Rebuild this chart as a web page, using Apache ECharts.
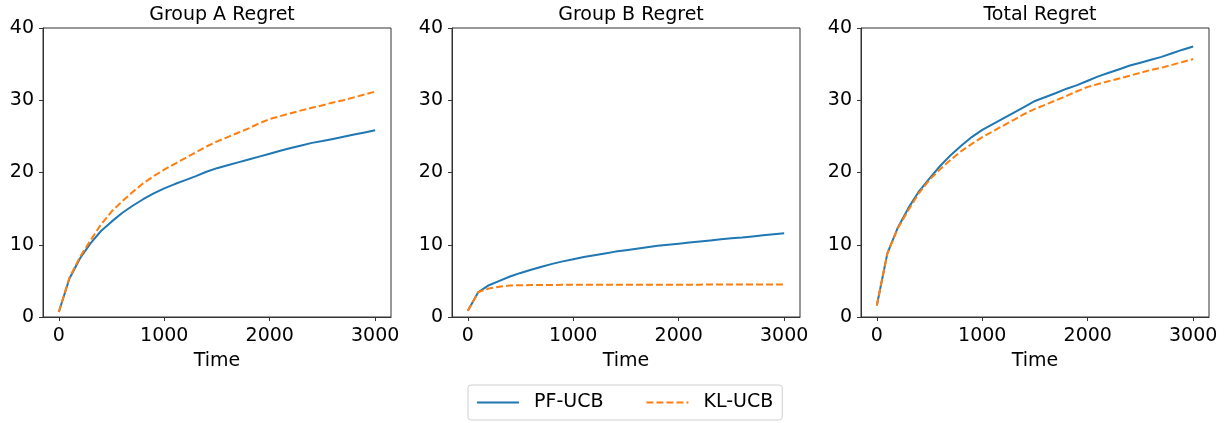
<!DOCTYPE html>
<html>
<head>
<meta charset="utf-8">
<script src="https://cdn.jsdelivr.net/npm/echarts@6/dist/echarts.min.js"></script>
<style>
html,body{margin:0;padding:0;background:#fff;}
#chart{width:1228px;height:423px;}
</style>
</head>
<body>
<div id="chart"></div>
<script>
var time = [0,100,200,300,400,500,600,700,800,900,1000,1100,1200,1300,1400,1500,1600,1700,1800,1900,2000,2100,2200,2300,2400,2500,2600,2700,2800,2900,3000];
var titles = ['Group A Regret', 'Group B Regret', 'Total Regret'];
var seriesNames = ['PF-UCB', 'KL-UCB'];
var xTicks = [0, 1000, 2000, 3000];
var yTicks = [0, 10, 20, 30, 40];

var groupA_PF = [0.7,5.3,8.1,10.2,11.9,13.2,14.4,15.4,16.3,17.1,17.8,18.4,18.95,19.5,20.1,20.6,21.0,21.4,21.8,22.2,22.6,23.0,23.4,23.75,24.1,24.35,24.65,24.95,25.25,25.55,25.85];
var groupA_KL = [0.7,5.4,8.3,10.6,12.8,14.6,16.0,17.3,18.5,19.5,20.4,21.2,22.0,22.8,23.6,24.3,24.9,25.5,26.1,26.8,27.4,27.8,28.2,28.6,28.95,29.3,29.7,30.0,30.4,30.8,31.2];
var groupB_PF = [0.85,3.45,4.4,5.0,5.6,6.1,6.55,6.95,7.35,7.7,8.0,8.3,8.55,8.8,9.05,9.25,9.45,9.65,9.85,10.0,10.15,10.3,10.45,10.6,10.75,10.9,11.0,11.15,11.3,11.45,11.6];
var groupB_KL = [0.85,3.45,3.95,4.2,4.35,4.4,4.42,4.43,4.44,4.45,4.45,4.46,4.46,4.46,4.47,4.47,4.47,4.47,4.48,4.48,4.48,4.48,4.48,4.49,4.49,4.49,4.49,4.49,4.5,4.5,4.5];
var total_PF = [1.6,8.8,12.4,15.1,17.4,19.2,20.9,22.4,23.7,24.9,25.9,26.7,27.5,28.3,29.1,29.9,30.45,31.0,31.6,32.1,32.7,33.3,33.8,34.3,34.8,35.2,35.6,36.0,36.5,37.0,37.45];
var total_KL = [1.6,8.8,12.3,14.8,17.15,19.0,20.45,21.75,22.95,23.95,24.9,25.7,26.5,27.3,28.1,28.8,29.4,30.0,30.6,31.25,31.85,32.25,32.65,33.0,33.4,33.8,34.2,34.5,34.9,35.3,35.7];

var panels = [[groupA_PF, groupA_KL],[groupB_PF, groupB_KL],[total_PF, total_KL]];
var gridLefts = [43, 452, 861];
var gridW = 348;
var FONT = 'DejaVu Sans';
var colors = ['#1f77b4', '#ff7f0e'];
var FRAME = '#333';

function pairs(xs, ys){ return xs.map(function(x,i){ return [x, ys[i]]; }); }

var grids = [], xAxes = [], yAxes = [], series = [], titleArr = [];
for (var p = 0; p < 3; p++) {
  grids.push({left: gridLefts[p], top: 28, width: gridW, height: 289, show: true, borderColor: FRAME, borderWidth: 1, backgroundColor: 'transparent'});
  titleArr.push({text: titles[p], left: gridLefts[p] + gridW/2, top: 1, textAlign: 'center',
    textStyle: {fontFamily: FONT, fontSize: 19, fontWeight: 'normal', color: '#000'}});
  xAxes.push({type: 'value', gridIndex: p, min: -150, max: 3150,
    name: 'Time', nameLocation: 'middle', nameGap: 35,
    nameTextStyle: {fontFamily: FONT, fontSize: 19, color: '#000'},
    axisLine: {show: true, onZero: false, lineStyle: {color: FRAME, width: 1}}, splitLine: {show: false},
    axisTick: {show: true, length: 4, lineStyle: {color: FRAME}, customValues: xTicks},
    axisLabel: {fontFamily: FONT, fontSize: 19, color: '#000', margin: 10, customValues: xTicks,
      formatter: function (v) { return String(v); }}
  });
  yAxes.push({type: 'value', gridIndex: p, min: 0, max: 40, interval: 10,
    axisLine: {show: true, onZero: false, lineStyle: {color: FRAME, width: 1}}, splitLine: {show: false},
    axisTick: {show: true, length: 4, lineStyle: {color: FRAME}},
    axisLabel: {fontFamily: FONT, fontSize: 19, color: '#000', margin: 9}
  });
  for (var s = 0; s < 2; s++) {
    series.push({
      name: seriesNames[s], type: 'line', xAxisIndex: p, yAxisIndex: p,
      data: pairs(time, panels[p][s]), symbol: 'none', showSymbol: false, smooth: false,
      lineStyle: {color: colors[s], width: 2, type: s === 1 ? [7, 3] : 'solid'},
      itemStyle: {color: colors[s]}, z: 2 + s, animation: false
    });
  }
}

var chart = echarts.init(document.getElementById('chart'), null, {renderer: 'canvas'});
chart.setOption({
  animation: false,
  title: titleArr,
  grid: grids,
  xAxis: xAxes,
  yAxis: yAxes,
  series: series,
  legend: {
    data: seriesNames, left: 468, top: 385, orient: 'horizontal',
    itemWidth: 42, itemHeight: 14, itemGap: 42,
    padding: [8, 9, 8, 8],
    borderColor: '#d0d0d0', borderWidth: 1, borderRadius: 3,
    itemStyle: {opacity: 0, color: 'transparent', borderWidth: 0},
    textStyle: {fontFamily: FONT, fontSize: 19, color: '#000', padding: [0, 0, 0, 10]}
  }
});
</script>
</body>
</html>
